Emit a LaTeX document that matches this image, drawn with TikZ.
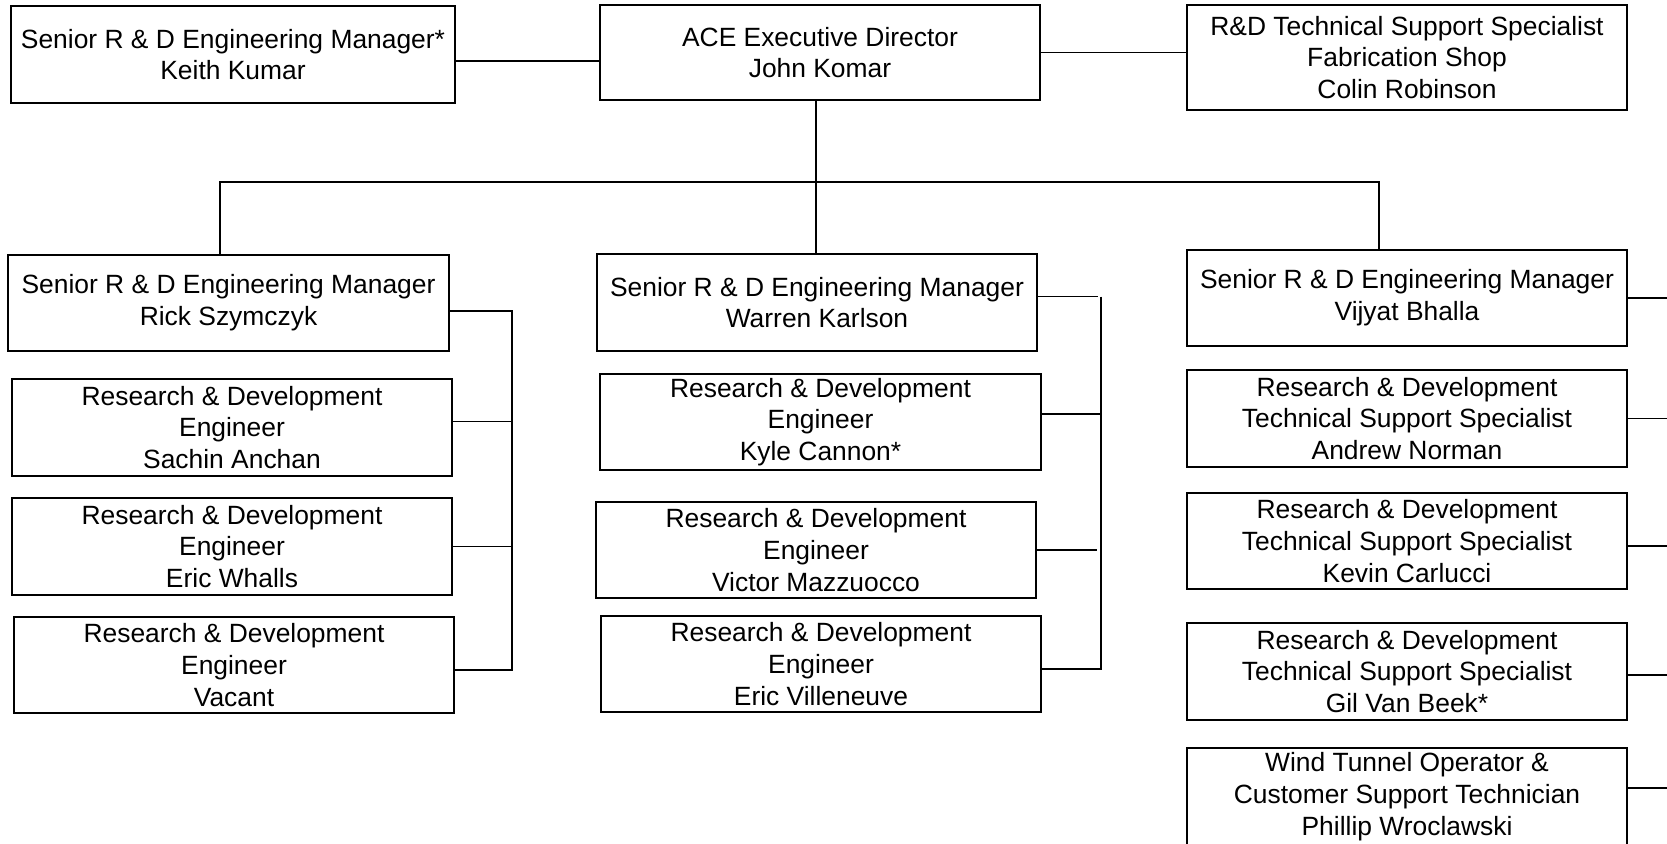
\documentclass[tikz,border=0pt]{standalone}
\usepackage{fontspec}
\setmainfont{Liberation Sans}
\usepackage{tikz}
\tikzset{
  orgbox/.style = {shape=rectangle, draw, line width=1.6pt,
                   align=center, inner sep=0pt,
                   minimum width=440pt, minimum height=97pt,
                   font=\fontsize{26.4pt}{31.7pt}\selectfont},
  link/.style   = {draw, line width=1.5pt}
}

\begin{document}
\begin{tikzpicture}
  [
    x = 1pt,
    y = -1pt
  ]
  \useasboundingbox [fill=white] (0,0) rectangle (1667,843);

  % top row
  \node [orgbox, minimum width=444pt] (keith) at (233,54.5)
        {Senior R \& D Engineering Manager*\\Keith Kumar};
  \node [orgbox, minimum height=95pt] (ace) at (820,52.5)
        {ACE Executive Director\\John Komar};
  \node [orgbox, minimum height=105pt] (colin) at (1407,57.5)
        {R\&D Technical Support Specialist\\Fabrication Shop\\Colin Robinson};

  % left group
  \node [orgbox, minimum width=441pt, minimum height=96pt] (rick) at (228.5,303)
        {Senior R \& D Engineering Manager\\Rick Szymczyk};
  \node [orgbox] (sachin) at (232,427.5)
        {Research \& Development\\Engineer\\Sachin Anchan};
  \node [orgbox] (whalls) at (232,546.5)
        {Research \& Development\\Engineer\\Eric Whalls};
  \node [orgbox, minimum height=96pt] (vacant) at (234,665)
        {Research \& Development\\Engineer\\Vacant};

  % middle group
  \node [orgbox] (warren) at (817,302.5)
        {Senior R \& D Engineering Manager\\Warren Karlson};
  \node [orgbox, minimum width=441pt, minimum height=96pt] (kyle) at (820.5,422)
        {Research \& Development\\Engineer\\Kyle Cannon*};
  \node [orgbox, minimum height=96pt] (victor) at (816,550)
        {Research \& Development\\Engineer\\Victor Mazzuocco};
  \node [orgbox, minimum height=96pt] (villeneuve) at (821,664)
        {Research \& Development\\Engineer\\Eric Villeneuve};

  % right group
  \node [orgbox, minimum height=96pt] (vijyat) at (1407,298)
        {Senior R \& D Engineering Manager\\Vijyat Bhalla};
  \node [orgbox] (andrew) at (1407,418.5)
        {Research \& Development\\Technical Support Specialist\\Andrew Norman};
  \node [orgbox, minimum height=96pt] (kevin) at (1407,541)
        {Research \& Development\\Technical Support Specialist\\Kevin Carlucci};
  \node [orgbox] (gil) at (1407,671.5)
        {Research \& Development\\Technical Support Specialist\\Gil Van Beek*};
  \node [orgbox] (phillip) at (1407,796.5)
        {Wind Tunnel Operator \&\\Customer Support Technician\\Phillip Wroclawski};

  \coordinate (busL) at (220,182);
  \coordinate (busM) at (816,182);
  \coordinate (busR) at (1379,182);
  \coordinate (trunkL) at (512,0);
  \coordinate (trunkM) at (1101,0);
  \coordinate (edgeR) at (1667,0);

  % top connectors
  \draw [link] ([yshift=-6.5pt]keith.east) -- ([yshift=-6.5pt]keith.east -| ace.west);
  \draw [link] (ace.east) -- (ace.east -| colin.west);
  \draw [link] (busM |- ace.south) -- (busM |- warren.north);
  \draw [link] (busL |- rick.north) -- (busL) -- (busR) -- (busR |- vijyat.north);

  % left trunk
  \draw [link] ([yshift=-8pt]rick.east) -| ([yshift=-5pt]vacant.east -| trunkL)
               -- ([yshift=-5pt]vacant.east);
  \draw [link] ([yshift=6pt]sachin.east) -- ([yshift=6pt]sachin.east -| trunkL);
  \draw [link] (whalls.east) -- (whalls.east -| trunkL);

  % middle trunk
  \draw [link] ([yshift=6pt]warren.east) -- ++(60,0);
  \draw [link] ([yshift=6pt]warren.east -| trunkM) -- ([yshift=-5pt]villeneuve.east -| trunkM)
               -- ([yshift=-5pt]villeneuve.east);
  \draw [link] ([yshift=8pt]kyle.east) -- ([yshift=8pt]kyle.east -| trunkM);
  \draw [link] (victor.east) -- ++(60,0);

  % right side
  \draw [link] (vijyat.east) -- (vijyat.east -| edgeR);
  \draw [link] (andrew.east) -- (andrew.east -| edgeR);
  \draw [link] ([yshift=-5pt]kevin.east) -- ([yshift=-5pt]kevin.east -| edgeR);
  \draw [link] ([yshift=-3.5pt]gil.east) -- ([yshift=-3.5pt]gil.east -| edgeR);
  \draw [link] ([yshift=8.5pt]phillip.east) -- ([yshift=8.5pt]phillip.east -| edgeR);
\end{tikzpicture}
\end{document}
